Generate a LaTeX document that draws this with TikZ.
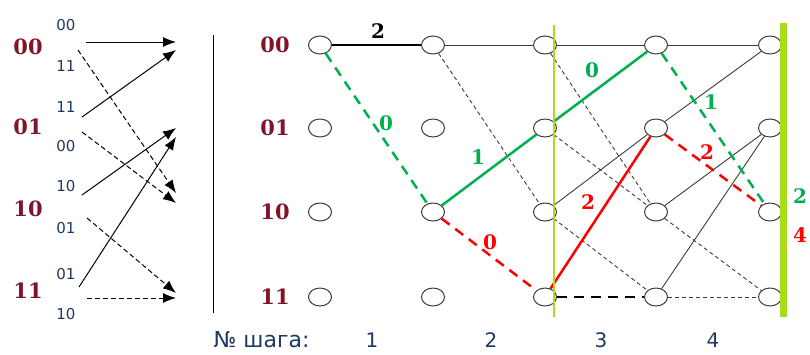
\documentclass[tikz,border=0pt]{standalone}
\usepackage{fontspec}
\newfontfamily\labfont{DejaVu Serif}
\newfontfamily\txtfont{DejaVu Sans}
\usetikzlibrary{arrows.meta,shapes.geometric}
\definecolor{statered}{RGB}{128,20,40}
\definecolor{navy}{RGB}{31,56,100}
\definecolor{pathgreen}{RGB}{0,176,80}
\definecolor{pathred}{RGB}{255,0,0}
\definecolor{limeline}{RGB}{170,220,30}
\definecolor{edgegray}{RGB}{60,60,60}

\tikzset{
  st/.style={ellipse,draw=edgegray,line width=1pt,fill=white,
    minimum width=23pt,minimum height=18pt,inner sep=0pt},
  stlab/.style={text=statered,font=\labfont\bfseries\fontsize{21}{21}\selectfont},
  outlab/.style={text=navy,font=\txtfont\fontsize{15}{15}\selectfont},
  steplab/.style={text=navy,font=\txtfont\fontsize{20}{20}\selectfont},
  mlab/.style={font=\labfont\bfseries\fontsize{20}{20}\selectfont},
  tr/.style={line width=1pt,-{Latex[length=13pt,width=10pt]}},
  trdash/.style={dash pattern=on 5pt off 3pt},
  br0/.style={edgegray,line width=0.9pt},
  br1/.style={edgegray,line width=0.9pt,dash pattern=on 4pt off 3pt},
  gpath/.style={pathgreen,line width=2.5pt},
  rpath/.style={pathred,line width=2.5pt},
  bigdash/.style={dash pattern=on 10pt off 7pt}
}

\begin{document}
\begin{tikzpicture}[x=1pt,y=-1pt]
\useasboundingbox (0,0) rectangle (810,354);

% left: transitions of the encoder
\node[stlab] (l00) at (28,47) {00};
\node[stlab] (l01) at (28,127) {01};
\node[stlab] (l10) at (28,209) {10};
\node[stlab] (l11) at (28,291) {11};
\foreach \n/\t/\y in {1/00/25,2/11/66,3/11/107,4/00/146,5/10/186,6/01/228,7/01/274,8/10/314}
  \node[outlab] (o\n) at (66,\y) {\t};
\foreach \n/\xa/\ya/\yb/\sty in {1/86/42/42/solid,2/78/50/193/trdash,3/82/117/50/solid,
    4/82/132/203/trdash,5/82/195/128/solid,6/87/218/293/trdash,7/79/287/137/solid,8/87/298/298/trdash}{
  \coordinate (a\n) at (\xa,\ya);
  \coordinate (b\n) at (176,\yb);
  \draw[tr,\sty] (a\n) -- (b\n);
}
\coordinate (sept) at (213,35);
\coordinate (sepb) at (213,313);
\draw[line width=1pt] (sept) -- (sepb);

% right: trellis
\node[stlab] (r00) at (275,45) {00};
\node[stlab] (r01) at (275,128) {01};
\node[stlab] (r10) at (275,212) {10};
\node[stlab] (r11) at (275,297) {11};
\foreach \c/\x in {1/320,2/433,3/545,4/656,5/770}
  \foreach \s/\y in {00/45,01/128,10/212,11/297}
    \node[st] (c\c s\s) at (\x,\y) {};

% plain branches
\draw[br0] (c2s00) -- (c3s00);
\draw[br0] (c3s00) -- (c4s00);
\draw[br0] (c4s00) -- (c5s00);
\draw[br0] (c3s10) -- (c4s01);
\draw[br0] (c4s01) -- (c5s00);
\draw[br0] (c4s10) -- (c5s01);
\draw[br0] (c4s11) -- (c5s01);
\draw[br1] (c2s00) -- (c3s10);
\draw[br1] (c3s00) -- (c4s10);
\draw[br1] (c3s01) -- (c4s10);
\draw[br1] (c3s10) -- (c4s11);
\draw[br1] (c4s10) -- (c5s11);
\draw[br1] (c4s11) -- (c5s11);

% marked branches
\draw[line width=2pt] (c1s00) -- (c2s00);
\draw[gpath,bigdash] (c1s00) -- (c2s10);
\draw[gpath] (c2s10) -- (c3s01);
\draw[rpath,bigdash] (c2s10) -- (c3s11);
\draw[gpath] (c3s01) -- (c4s00);
\draw[rpath] (c3s11) -- (c4s01);
\draw[line width=2.5pt,bigdash] (c3s11) -- (c4s11);
\draw[gpath,bigdash] (c4s00) -- (c5s10);
\draw[rpath,bigdash] (c4s01) -- (c5s10);

% metrics
\node[mlab] (m1) at (378,31) {2};
\node[mlab,text=pathgreen] (m2) at (386,123) {0};
\node[mlab,text=pathgreen] (m3) at (478,157) {1};
\node[mlab,text=pathred] (m4) at (490,242) {0};
\node[mlab,text=pathgreen] (m5) at (592,70) {0};
\node[mlab,text=pathred] (m6) at (588,202) {2};
\node[mlab,text=pathgreen] (m7) at (711,102) {1};
\node[mlab,text=pathred] (m8) at (707,152) {2};
\node[mlab,text=pathgreen] (m9) at (800,196) {2};
\node[mlab,text=pathred] (m10) at (800,235) {4};

% step markers
\coordinate (v1t) at (554,25);
\coordinate (v1b) at (554,317);
\draw[limeline,line width=1.2pt] (v1t) -- (v1b);
\coordinate (v2t) at (783.5,23);
\coordinate (v2b) at (783.5,317);
\draw[limeline,line width=6.5pt] (v2t) -- (v2b);

% step numbers
\node[steplab,font=\txtfont\fontsize{22}{22}\selectfont,anchor=west] (stp) at (210,340) {№ шага:};
\foreach \n/\x in {1/372,2/491,3/601,4/713}
  \node[steplab] (k\n) at (\x,340) {\n};
\end{tikzpicture}
\end{document}
